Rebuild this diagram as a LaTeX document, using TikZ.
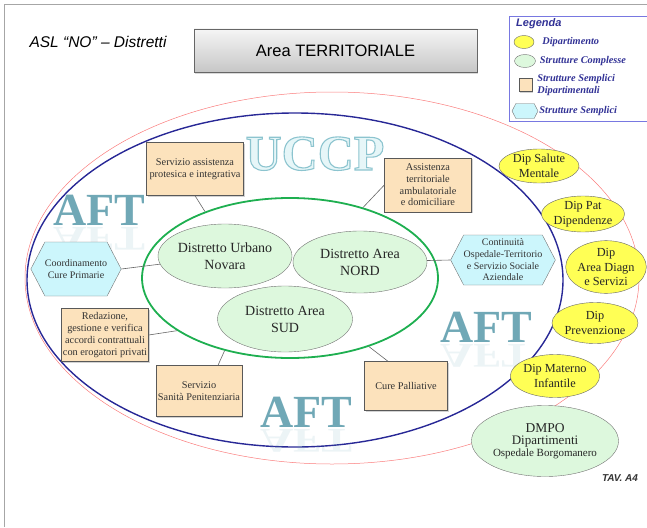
\documentclass[tikz,border=0pt]{standalone}
\usepackage{fontspec}
\setmainfont{Liberation Serif}
\setsansfont{Liberation Sans}
\usetikzlibrary{shapes.geometric, shapes.symbols, shadows, positioning}

\definecolor{tanfill}{RGB}{252,226,188}
\definecolor{hexfill}{RGB}{204,246,252}
\definecolor{dipfill}{RGB}{255,255,85}
\definecolor{compfill}{RGB}{221,248,221}
\definecolor{verdedist}{RGB}{30,175,80}
\definecolor{bluaft}{RGB}{40,40,150}
\definecolor{rossoasl}{RGB}{250,125,125}
\definecolor{legblu}{RGB}{120,120,225}
\definecolor{legtesto}{RGB}{50,50,150}
\definecolor{aftcol}{RGB}{112,168,182}
\definecolor{uccpfill}{RGB}{230,246,248}

% outlined letters for the UCCP label
\newcommand{\contorno}[1]{\special{pdf:literal direct 2 Tr 1.1 w 0.55 0.77 0.81 RG}#1\special{pdf:literal direct 0 Tr}}

\begin{document}
\begin{tikzpicture}[x=1pt, y=-1pt,
    semplice/.style={rectangle, draw=black!65, fill=tanfill, align=center, inner sep=1pt,
        drop shadow={shadow xshift=1.2pt, shadow yshift=-1.2pt, opacity=0.35},
        text=black!80, font=\fontsize{10.3}{11.7}\selectfont},
    struttura/.style={signal, signal to=west and east, signal pointer angle=125, draw=black!55,
        fill=hexfill, align=center, inner sep=0pt, text=black!80, font=\fontsize{10}{11.7}\selectfont},
    complessa/.style={ellipse, draw=black!55, fill=compfill, align=center, inner sep=0pt, text=black!85},
    dip/.style={ellipse, draw=black!60, fill=dipfill, align=center, inner sep=0pt, text=black!85,
        font=\fontsize{12.3}{14.5}\selectfont},
    legtxt/.style={anchor=west, inner sep=0pt, align=left, text=legtesto,
        font=\bfseries\itshape\fontsize{10.3}{12.5}\selectfont},
    aft/.style={anchor=base, inner sep=0pt, text=aftcol, font=\bfseries\fontsize{46}{46}\selectfont},
    uccp/.style={anchor=base, inner sep=0pt, font=\bfseries\fontsize{50}{50}\selectfont},
    link/.style={draw=black!60, line width=0.6pt}]

    %define the page
    \useasboundingbox (0,0) rectangle (647,527);
    \draw[black!35, line width=0.8pt] (4,527) -- (4,4) -- (647,4);

    %define the titles
    \node[font=\sffamily\itshape\fontsize{15.5}{17}\selectfont] (titolo) at (98,42) {ASL ``NO'' -- Distretti};
    \node[rectangle, draw=black!60, top color=black!4, bottom color=black!22, minimum width=283pt,
        minimum height=43pt, drop shadow={shadow xshift=1.2pt, shadow yshift=-1.5pt, opacity=0.3},
        font=\sffamily\fontsize{16.5}{18}\selectfont] (area) at (335.5,50.5) {Area TERRITORIALE};
    \node[font=\sffamily\bfseries\itshape\fontsize{10}{11}\selectfont, text=black!80] (tav) at (620,478) {TAV. A4};

    %define the legend
    \draw[legblu, fill=white, line width=0.8pt] (509,16) rectangle (652,121);
    \node[legtxt, font=\sffamily\bfseries\itshape\fontsize{11}{12}\selectfont] (legenda) at (516,24) {Legenda};
    \node[dip, minimum width=20pt, minimum height=13pt] (legdip) at (524,42) {};
    \node[legtxt, right=8pt of legdip] {Dipartimento};
    \node[complessa, minimum width=21pt, minimum height=13pt] (legcomp) at (525,61) {};
    \node[legtxt, right=4pt of legcomp] {Strutture Complesse};
    \node[semplice, minimum width=13pt, minimum height=13pt, inner sep=0pt] (legsemp) at (525.5,85) {};
    \node[legtxt, right=5pt of legsemp] {Strutture Semplici\\Dipartimentali};
    \node[struttura, minimum width=26pt, minimum height=15pt] (legstrut) at (525,111) {};
    \node[legtxt, right=1pt of legstrut] {Strutture Semplici};

    %define the areas
    \draw[rossoasl, line width=0.5pt] (332,278) ellipse [x radius=307, y radius=186];
    \draw[bluaft, line width=1.4pt] (295,280) ellipse [x radius=268, y radius=167];

    \node[uccp, text=uccpfill] (uccpscritta) at (315,170) {\contorno{UCCP}};

    \node[aft] (aft1) at (99,225) {AFT};
    \node[aft, yscale=-0.75, opacity=0.13] at (99,227) {AFT};
    \node[aft] (aft2) at (486,342) {AFT};
    \node[aft, yscale=-0.75, opacity=0.13] at (486,344) {AFT};
    \node[aft] (aft3) at (306,427) {AFT};
    \node[aft, yscale=-0.75, opacity=0.13] at (306,429) {AFT};

    \node[ellipse, draw=verdedist, line width=1.8pt, minimum width=296pt, minimum height=160pt] (distretti) at (290,278) {};

    %define the districts
    \node[complessa, minimum width=134pt, minimum height=64pt, font=\fontsize{14}{17}\selectfont] (urbano) at (225,256) {Distretto Urbano\\Novara};
    \node[complessa, minimum width=134pt, minimum height=62pt, font=\fontsize{14}{17}\selectfont] (nord) at (360,262) {Distretto Area\\NORD};
    \node[complessa, minimum width=135pt, minimum height=66pt, font=\fontsize{14}{17}\selectfont] (sud) at (285,319) {Distretto Area\\SUD};

    %define the services
    \node[semplice, minimum width=97pt, minimum height=53pt] (protesica) at (195,169) {Servizio assistenza\\protesica e integrativa};
    \node[semplice, minimum width=87pt, minimum height=54pt] (domiciliare) at (428,185) {Assistenza\\territoriale\\ambulatoriale\\e domiciliare};
    \node[semplice, minimum width=87pt, minimum height=53pt] (accordi) at (105,335) {Redazione,\\gestione e verifica\\accordi contrattuali\\con erogatori privati};
    \node[semplice, minimum width=86pt, minimum height=51pt] (penit) at (199,391) {Servizio\\Sanità Penitenziaria};
    \node[semplice, minimum width=83pt, minimum height=49pt] (palliative) at (406,386) {Cure Palliative};
    \node[struttura, minimum width=88pt, minimum height=54pt] (cureprim) at (76,269) {Coordinamento\\Cure Primarie};
    \node[struttura, minimum width=93pt, minimum height=50pt] (continuita) at (503,260) {Continuità\\Ospedale-Territorio\\e Servizio Sociale\\Aziendale};

    %define the departments
    \node[dip, minimum width=80pt, minimum height=34pt] (salute) at (539,166) {Dip Salute\\Mentale};
    \node[dip, minimum width=80pt, minimum height=36pt] (dipendenze) at (583,214) {Dip Pat\\Dipendenze};
    \node[dip, minimum width=78pt, minimum height=40pt] (diagn) at (606,267) {Dip\\Area Diagn\\e Servizi};
    \node[dip, minimum width=76pt, minimum height=41pt] (prev) at (595,323) {Dip\\Prevenzione};
    \node[dip, minimum width=76pt, minimum height=43pt] (materno) at (555,376) {Dip Materno\\Infantile};
    \node[complessa, minimum width=144pt, minimum height=71pt] (dmpo) at (545,441)
        {\fontsize{13.5}{16}\selectfont DMPO\\\fontsize{13}{15}\selectfont Dipartimenti\\\fontsize{11}{14}\selectfont Ospedale Borgomanero};

    %define the links
    \draw[link] (protesica.south) -- (distretti.142);
    \draw[link] (domiciliare.west) -- (distretti.44);
    \draw[link] (cureprim.east) -- (urbano);
    \draw[link] (accordi.east) -- (distretti.205);
    \draw[link] (continuita.west) -- (nord);
    \draw[link] ([xshift=19pt]penit.north) -- (distretti.228);
    \draw[link] ([xshift=-18pt]palliative.north) -- (distretti.319);
\end{tikzpicture}
\end{document}
